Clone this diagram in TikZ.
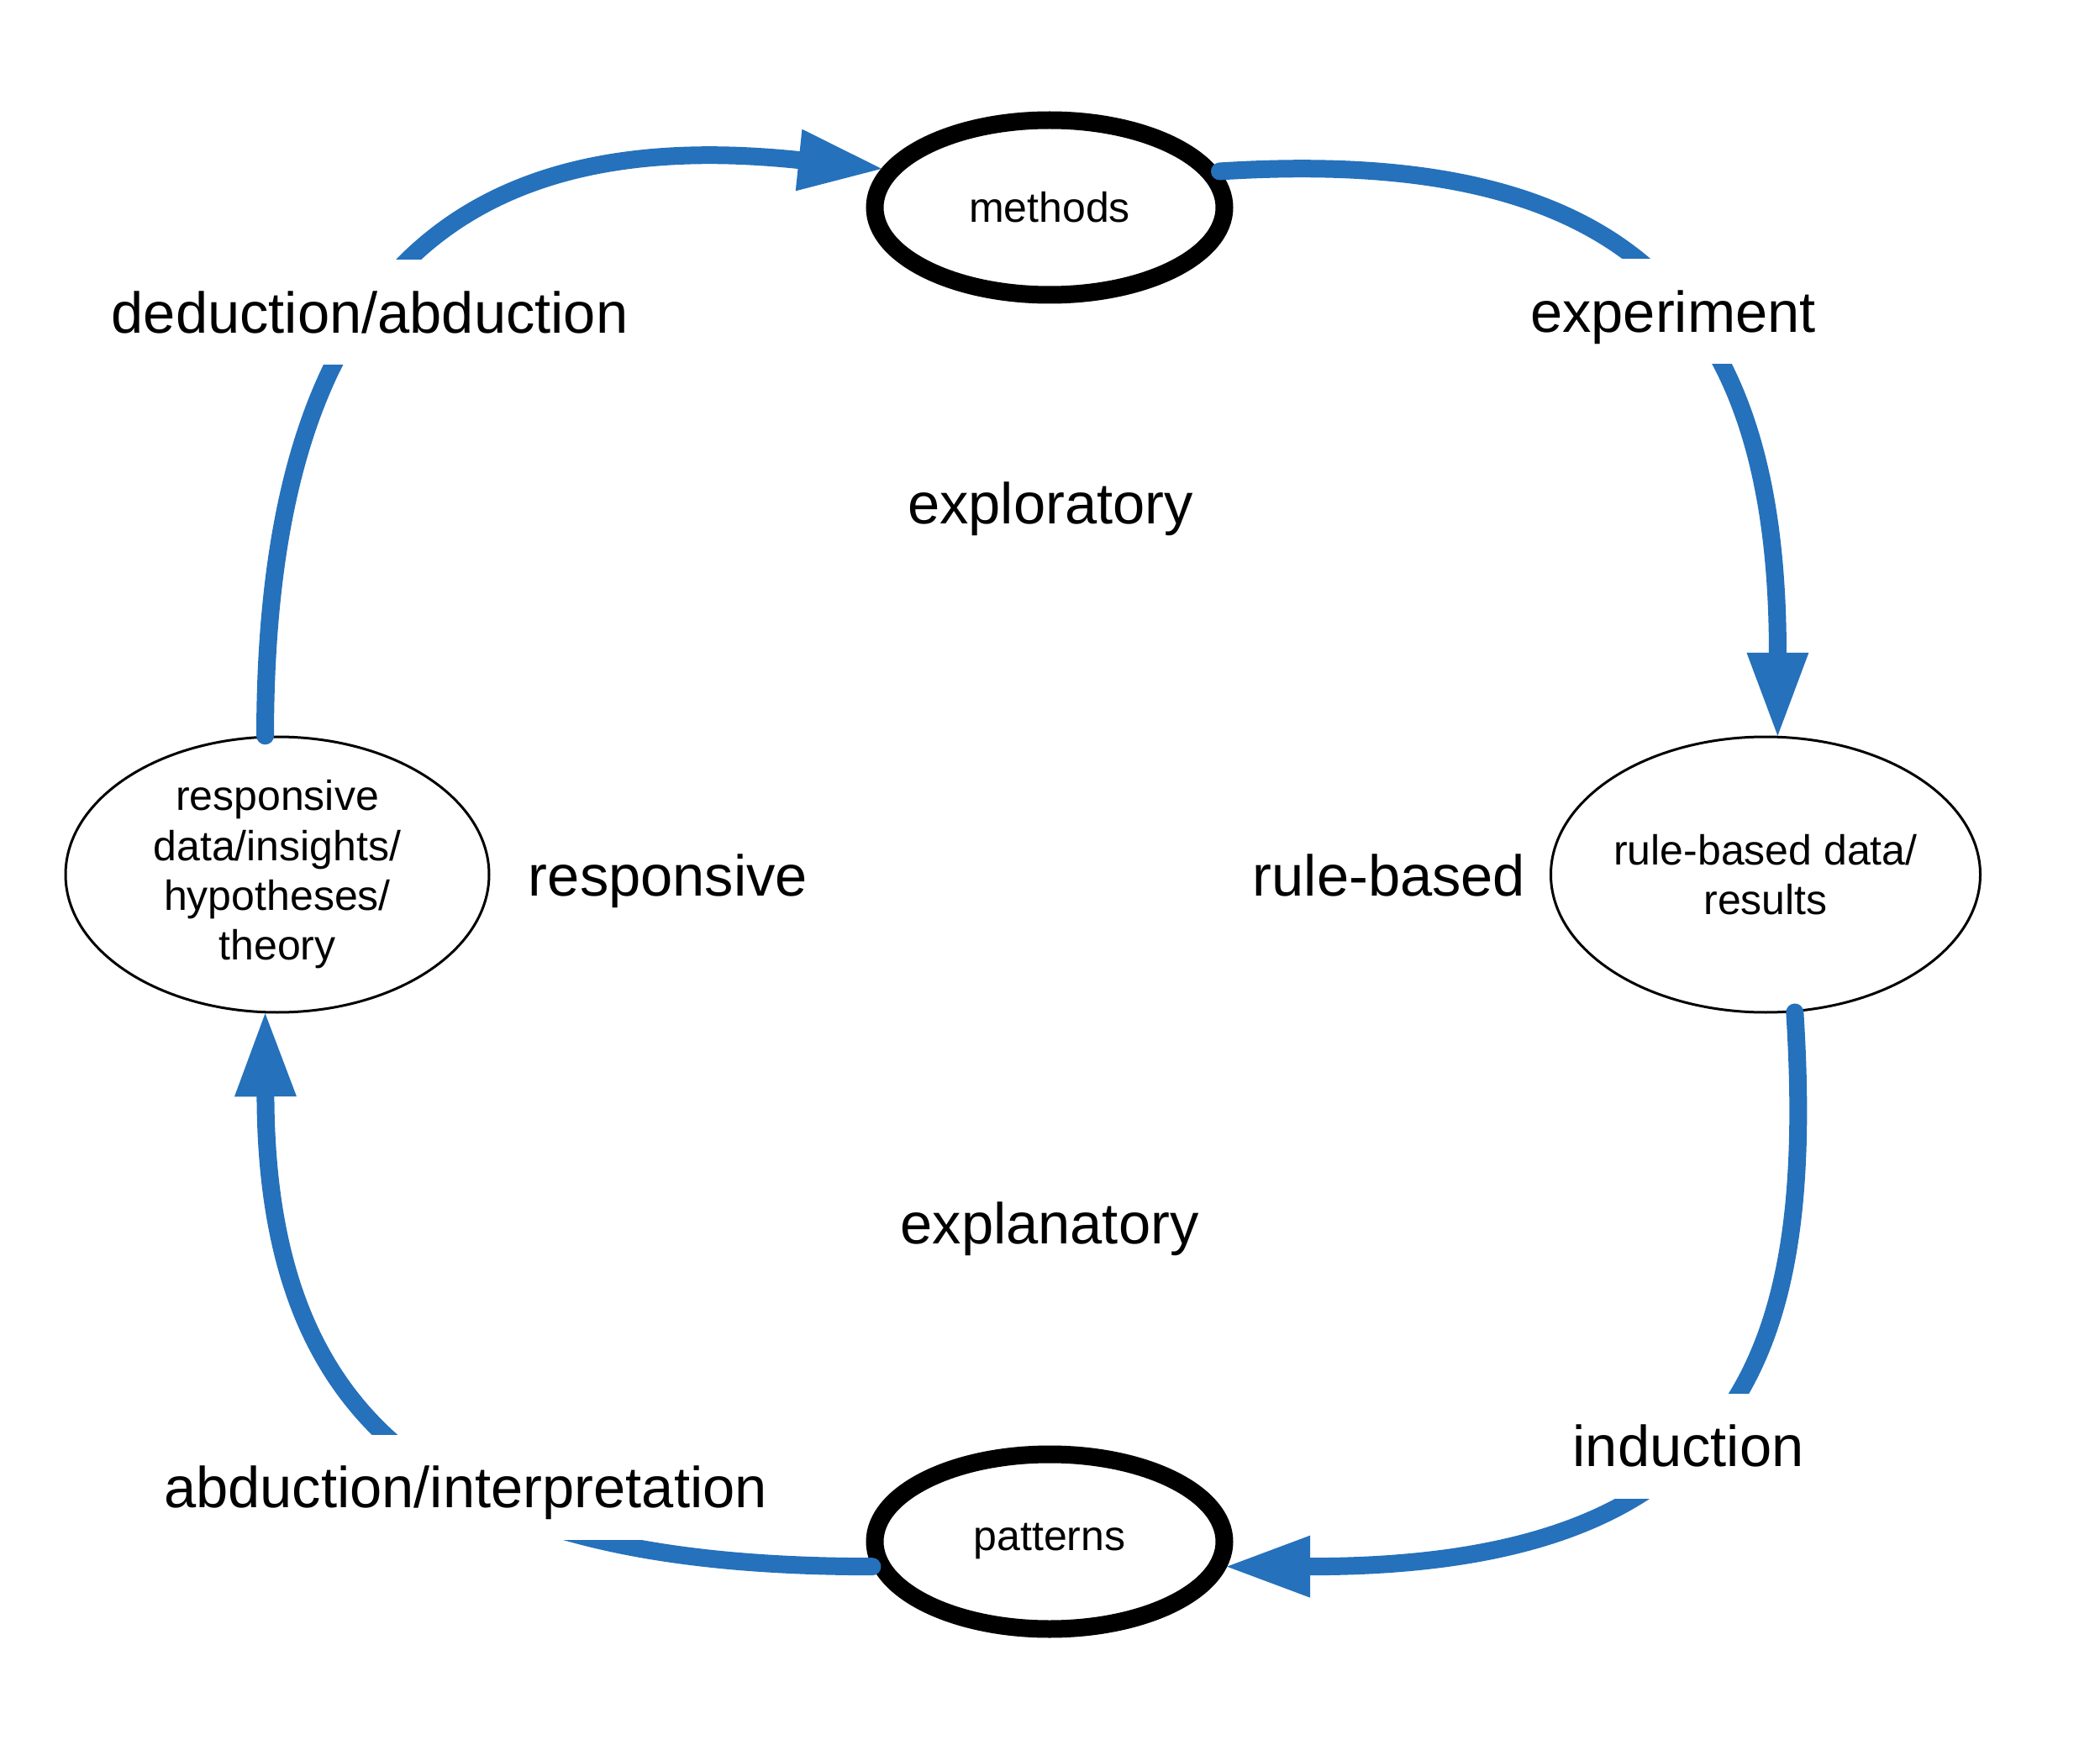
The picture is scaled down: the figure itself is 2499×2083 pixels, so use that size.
\documentclass[tikz,border=0pt]{standalone}
\usepackage{fontspec}
\setmainfont{Liberation Sans}
\usetikzlibrary{arrows.meta,shapes.geometric}

\definecolor{flowblue}{RGB}{37,113,187}

\tikzset{every picture/.style={line width=0.5pt}}
\tikzset{
  thickell/.style={ellipse,draw=black,line width=6.3pt,minimum width=124.8pt,minimum height=62.4pt,inner sep=0pt,font=\fontsize{15pt}{17.8pt}\selectfont},
  thinell/.style={ellipse,draw=black,line width=0.9pt,minimum width=151.2pt,minimum height=98.4pt,inner sep=0pt,align=center,font=\fontsize{15pt}{17.8pt}\selectfont},
  flow/.style={draw=flowblue,line width=6.3pt,line cap=round,-{Triangle[length=29.7pt,width=22.2pt,line width=0pt]}},
  gaplbl/.style={fill=white,inner sep=0pt,minimum height=37.5pt,text height=14.8pt,text depth=0pt,font=\fontsize{20.6pt}{24pt}\selectfont},
  arealbl/.style={inner sep=0pt,text height=14.8pt,text depth=0pt,font=\fontsize{20.6pt}{24pt}\selectfont}
}

\begin{document}
\begin{tikzpicture}[x=0.3pt,y=0.3pt,yscale=-1,xscale=1]
    \useasboundingbox (0,0) rectangle (2499,2083);

    %Shape: Ellipse [methods, patterns]
    \node [thickell] (methods) at (1249,247) {methods};
    \node [thickell] (patterns) at (1249,1835) {patterns};
    %Shape: Ellipse [data]
    \node [thinell] (respdata) at (330,1041) {responsive\\data/insights/\\hypotheses/\\theory};
    \node [thinell] (ruledata) at (2101,1041) {rule-based data/\\results};

    %Shape: Curve Arrow
    \draw [flow] (respdata.95) .. controls +(0,-550) and +(-497,-52) .. (methods.167);
    %Shape: Curve Arrow
    \draw [flow] (methods.12) .. controls +(474,-30) and +(0,-525) .. (ruledata.85);
    %Shape: Curve Arrow
    \draw [flow] (ruledata.-78) .. controls +(25,400) and +(620,0) .. (patterns.-8);
    %Shape: Curve Arrow
    \draw [flow] (patterns.188) .. controls +(-500,0) and +(2,500) .. (respdata.-95);

    % Text Node
    \node [gaplbl] (deduct) at (440,372) {deduction/abduction};
    % Text Node
    \node [gaplbl] (experim) at (1991,371) {experiment};
    % Text Node
    \node [gaplbl] (induct) at (2009,1721) {induction};
    % Text Node
    \node [gaplbl] (abduct) at (554,1770) {abduction/interpretation};
    % Text Node
    \node [arealbl] (explor) at (1250,599) {exploratory};
    % Text Node
    \node [arealbl] (respons) at (795,1042) {responsive};
    % Text Node
    \node [arealbl] (rulebas) at (1653,1042) {rule-based};
    % Text Node
    \node [arealbl] (explan) at (1249,1456) {explanatory};
\end{tikzpicture}
\end{document}
